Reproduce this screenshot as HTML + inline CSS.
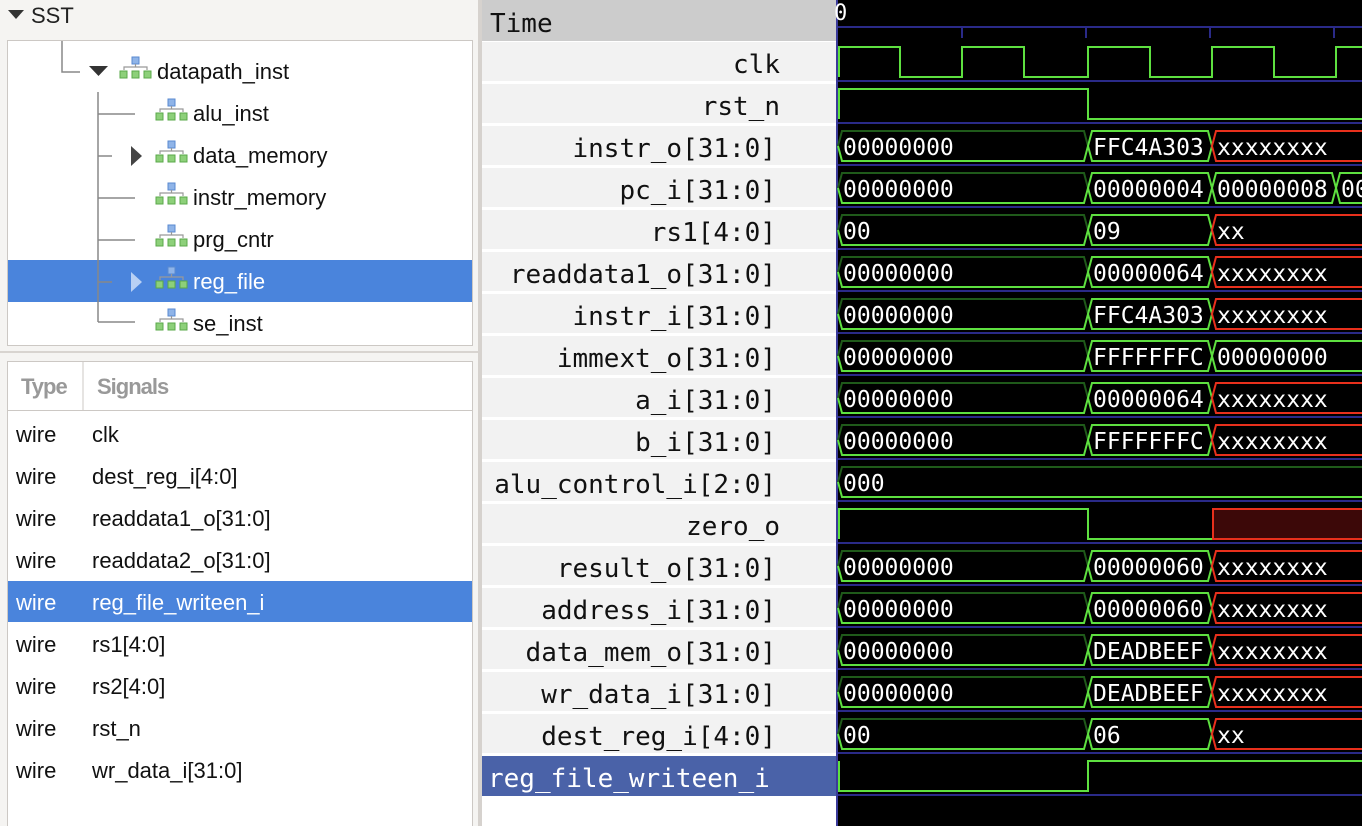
<!DOCTYPE html>
<html><head><meta charset="utf-8"><style>
body{margin:0;width:1362px;height:826px;overflow:hidden;background:#f5f4f2;position:relative;font-family:"Liberation Sans",sans-serif}
.abs{position:absolute}
</style></head><body>
<svg class="abs" style="left:0;top:0" width="1362" height="826" xmlns="http://www.w3.org/2000/svg">
<defs>
<g id="ic">
<rect x="12" y="0" width="7" height="7" fill="#8fb4e8" stroke="#5a8ad0" stroke-width="1"/>
<path d="M15.5 7v3M4 13v-3h23v3" stroke="#999" stroke-width="1.2" fill="none"/>
<rect x="0" y="14" width="7" height="7" fill="#8dd07a" stroke="#5aa84a"/>
<rect x="12" y="14" width="7" height="7" fill="#8dd07a" stroke="#5aa84a"/>
<rect x="24" y="14" width="7" height="7" fill="#8dd07a" stroke="#5aa84a"/>
</g>
</defs>
<rect x="0" y="0" width="480" height="826" fill="#f5f4f2"/>
<path d="M8 10h16l-8 9z" fill="#333"/>
<text x="31" y="23" font-size="22" fill="#222">SST</text>
<rect x="7.5" y="40.5" width="465" height="305" fill="#fff" stroke="#ccc8c4"/>
<rect x="8" y="260" width="464" height="42" fill="#4a84dc"/>
<path d="M62 41v31h18M98 92v230M98 114h37M98 156h14M98 198h37M98 240h37M98 282h14M98 322h37" stroke="#888" stroke-width="1.5" fill="none"/>
<path d="M89 66h19l-9.5 10z" fill="#333"/>
<path d="M131 146v20l11-10z" fill="#444"/>
<path d="M131 272v20l11-10z" fill="#b8d0f4"/>
<use href="#ic" x="120" y="57"/>
<use href="#ic" x="156" y="99"/><use href="#ic" x="156" y="141"/><use href="#ic" x="156" y="183"/>
<use href="#ic" x="156" y="225"/><use href="#ic" x="156" y="267"/><use href="#ic" x="156" y="309"/>
<g font-size="22" fill="#111">
<text x="157" y="79">datapath_inst</text>
<text x="193" y="121">alu_inst</text>
<text x="193" y="163">data_memory</text>
<text x="193" y="205">instr_memory</text>
<text x="193" y="247">prg_cntr</text>
<text x="193" y="289" fill="#fff">reg_file</text>
<text x="193" y="331">se_inst</text>
</g>
<line x1="0" y1="352" x2="480" y2="352" stroke="#d8d4d0" stroke-width="2"/>
<rect x="7.5" y="361.5" width="465" height="470" fill="#fff" stroke="#ccc8c4"/>
<line x1="83" y1="362" x2="83" y2="410" stroke="#ccc8c4"/>
<line x1="8" y1="410.5" x2="472" y2="410.5" stroke="#ccc8c4"/>
<rect x="8" y="581" width="464" height="41" fill="#4a84dc"/>
<g font-size="22" font-weight="bold" fill="#999"><text x="21" y="394" letter-spacing="-1">Type</text><text x="97" y="394" letter-spacing="-1">Signals</text></g>
<g font-size="22" fill="#111">
<text x="16" y="442">wire</text><text x="92" y="442">clk</text>
<text x="16" y="484">wire</text><text x="92" y="484">dest_reg_i[4:0]</text>
<text x="16" y="526">wire</text><text x="92" y="526">readdata1_o[31:0]</text>
<text x="16" y="568">wire</text><text x="92" y="568">readdata2_o[31:0]</text>
<text x="16" y="610" fill="#fff">wire</text><text x="92" y="610" fill="#fff">reg_file_writeen_i</text>
<text x="16" y="652">wire</text><text x="92" y="652">rs1[4:0]</text>
<text x="16" y="694">wire</text><text x="92" y="694">rs2[4:0]</text>
<text x="16" y="736">wire</text><text x="92" y="736">rst_n</text>
<text x="16" y="778">wire</text><text x="92" y="778">wr_data_i[31:0]</text>
</g>
<rect x="478" y="0" width="4" height="826" fill="#d6d2ce"/>
<rect x="482" y="0" width="356" height="826" fill="#fff"/>
<rect x="482" y="0" width="356" height="41" fill="#cccccc"/>
<g fill="#f2f2f2">
<rect x="482" y="42" width="354" height="39"/><rect x="482" y="84" width="354" height="39"/><rect x="482" y="126" width="354" height="39"/>
<rect x="482" y="168" width="354" height="39"/><rect x="482" y="210" width="354" height="39"/><rect x="482" y="252" width="354" height="39"/>
<rect x="482" y="294" width="354" height="39"/><rect x="482" y="336" width="354" height="39"/><rect x="482" y="378" width="354" height="39"/>
<rect x="482" y="420" width="354" height="39"/><rect x="482" y="462" width="354" height="39"/><rect x="482" y="504" width="354" height="39"/>
<rect x="482" y="546" width="354" height="39"/><rect x="482" y="588" width="354" height="39"/><rect x="482" y="630" width="354" height="39"/>
<rect x="482" y="672" width="354" height="39"/><rect x="482" y="714" width="354" height="39"/>
</g>
<rect x="482" y="756" width="354" height="40" fill="#4a62a8"/>
<g font-family="DejaVu Sans Mono,monospace" font-size="26" fill="#111" text-anchor="end">
<text x="490" y="32" text-anchor="start">Time</text>
<text x="780" y="73">clk</text>
<text x="780" y="115">rst_n</text>
<text x="776" y="157">instr_o[31:0]</text>
<text x="776" y="199">pc_i[31:0]</text>
<text x="776" y="241">rs1[4:0]</text>
<text x="776" y="283">readdata1_o[31:0]</text>
<text x="776" y="325">instr_i[31:0]</text>
<text x="776" y="367">immext_o[31:0]</text>
<text x="776" y="409">a_i[31:0]</text>
<text x="776" y="451">b_i[31:0]</text>
<text x="776" y="493">alu_control_i[2:0]</text>
<text x="780" y="535">zero_o</text>
<text x="776" y="577">result_o[31:0]</text>
<text x="776" y="619">address_i[31:0]</text>
<text x="776" y="661">data_mem_o[31:0]</text>
<text x="776" y="703">wr_data_i[31:0]</text>
<text x="776" y="745">dest_reg_i[4:0]</text>
<text x="488" y="787" text-anchor="start" fill="#fff">reg_file_writeen_i</text>
</g>
<rect x="836" y="0" width="526" height="826" fill="#000"/>
<line x1="837" y1="0" x2="837" y2="826" stroke="#3a3a9a" stroke-width="2"/>
<text x="834" y="20" font-family="DejaVu Sans Mono,monospace" font-size="22" fill="#fff">0</text>
<g stroke="#2a2a88" stroke-width="2">
<line x1="838" y1="27" x2="1362" y2="27"/>
<path d="M962 27v11M1086 27v11M1210 27v11M1334 27v11"/>
<line x1="838" y1="81" x2="1362" y2="81"/><line x1="838" y1="123" x2="1362" y2="123"/><line x1="838" y1="165" x2="1362" y2="165"/>
<line x1="838" y1="207" x2="1362" y2="207"/><line x1="838" y1="249" x2="1362" y2="249"/><line x1="838" y1="291" x2="1362" y2="291"/>
<line x1="838" y1="333" x2="1362" y2="333"/><line x1="838" y1="375" x2="1362" y2="375"/><line x1="838" y1="417" x2="1362" y2="417"/>
<line x1="838" y1="459" x2="1362" y2="459"/><line x1="838" y1="501" x2="1362" y2="501"/><line x1="838" y1="543" x2="1362" y2="543"/>
<line x1="838" y1="585" x2="1362" y2="585"/><line x1="838" y1="627" x2="1362" y2="627"/><line x1="838" y1="669" x2="1362" y2="669"/>
<line x1="838" y1="711" x2="1362" y2="711"/><line x1="838" y1="753" x2="1362" y2="753"/><line x1="838" y1="795" x2="1362" y2="795"/>
</g>
<g fill="none" stroke-width="2">
<path d="M839 77V47H900V77H962V47H1024V77H1088V47H1150V77H1212V47H1274V77H1336V47H1362" stroke="#5ee040"/>
<path d="M839 119V89H1088V119H1362" stroke="#5ee040"/>
<path d="M839 539V509H1088V539H1212" stroke="#5ee040"/>
<rect x="1213" y="509" width="160" height="30" fill="#3c0808" stroke="#e8301c"/>
<path d="M839 761V791H1088V761H1362" stroke="#5ee040"/>
</g>
<defs>
<g id="A" fill="none" stroke-width="2"><path d="M838 21L842 6H1084L1088 21" stroke="#1f5a1a"/><path d="M838 21L842 36H1084L1088 21" stroke="#5ee040"/></g>
<polygon id="B" points="1088,21 1092,6 1208,6 1212,21 1208,36 1092,36" fill="none" stroke="#5ee040" stroke-width="2"/>
<polygon id="C" points="1212,21 1216,6 1372,6 1372,36 1216,36" fill="none" stroke="#e8301c" stroke-width="2"/>
<polygon id="G" points="1212,21 1216,6 1372,6 1372,36 1216,36" fill="none" stroke="#5ee040" stroke-width="2"/>
</defs>
<g font-family="DejaVu Sans Mono,monospace" font-size="23" fill="#fff">
<g transform="translate(0,125)"><use href="#A"/><use href="#B"/><use href="#C"/><text x="843" y="30">00000000</text><text x="1093" y="30">FFC4A303</text><text x="1217" y="30">xxxxxxxx</text></g>
<g transform="translate(0,167)"><use href="#A"/><use href="#B"/><polygon points="1212,21 1216,6 1332,6 1336,21 1332,36 1216,36" fill="none" stroke="#5ee040" stroke-width="2"/><polygon points="1336,21 1340,6 1372,6 1372,36 1340,36" fill="none" stroke="#5ee040" stroke-width="2"/><text x="843" y="30">00000000</text><text x="1093" y="30">00000004</text><text x="1217" y="30">00000008</text><text x="1341" y="30">00</text></g>
<g transform="translate(0,209)"><use href="#A"/><use href="#B"/><use href="#C"/><text x="843" y="30">00</text><text x="1093" y="30">09</text><text x="1217" y="30">xx</text></g>
<g transform="translate(0,251)"><use href="#A"/><use href="#B"/><use href="#C"/><text x="843" y="30">00000000</text><text x="1093" y="30">00000064</text><text x="1217" y="30">xxxxxxxx</text></g>
<g transform="translate(0,293)"><use href="#A"/><use href="#B"/><use href="#C"/><text x="843" y="30">00000000</text><text x="1093" y="30">FFC4A303</text><text x="1217" y="30">xxxxxxxx</text></g>
<g transform="translate(0,335)"><use href="#A"/><use href="#B"/><use href="#G"/><text x="843" y="30">00000000</text><text x="1093" y="30">FFFFFFFC</text><text x="1217" y="30">00000000</text></g>
<g transform="translate(0,377)"><use href="#A"/><use href="#B"/><use href="#C"/><text x="843" y="30">00000000</text><text x="1093" y="30">00000064</text><text x="1217" y="30">xxxxxxxx</text></g>
<g transform="translate(0,419)"><use href="#A"/><use href="#B"/><use href="#C"/><text x="843" y="30">00000000</text><text x="1093" y="30">FFFFFFFC</text><text x="1217" y="30">xxxxxxxx</text></g>
<g transform="translate(0,461)"><path d="M838 21L842 6H1372" stroke="#1f5a1a" stroke-width="2" fill="none"/><path d="M838 21L842 36H1372" stroke="#5ee040" stroke-width="2" fill="none"/><text x="843" y="30">000</text></g>
<g transform="translate(0,545)"><use href="#A"/><use href="#B"/><use href="#C"/><text x="843" y="30">00000000</text><text x="1093" y="30">00000060</text><text x="1217" y="30">xxxxxxxx</text></g>
<g transform="translate(0,587)"><use href="#A"/><use href="#B"/><use href="#C"/><text x="843" y="30">00000000</text><text x="1093" y="30">00000060</text><text x="1217" y="30">xxxxxxxx</text></g>
<g transform="translate(0,629)"><use href="#A"/><use href="#B"/><use href="#C"/><text x="843" y="30">00000000</text><text x="1093" y="30">DEADBEEF</text><text x="1217" y="30">xxxxxxxx</text></g>
<g transform="translate(0,671)"><use href="#A"/><use href="#B"/><use href="#C"/><text x="843" y="30">00000000</text><text x="1093" y="30">DEADBEEF</text><text x="1217" y="30">xxxxxxxx</text></g>
<g transform="translate(0,713)"><use href="#A"/><use href="#B"/><use href="#C"/><text x="843" y="30">00</text><text x="1093" y="30">06</text><text x="1217" y="30">xx</text></g>
</g>
</svg>
</body></html>
